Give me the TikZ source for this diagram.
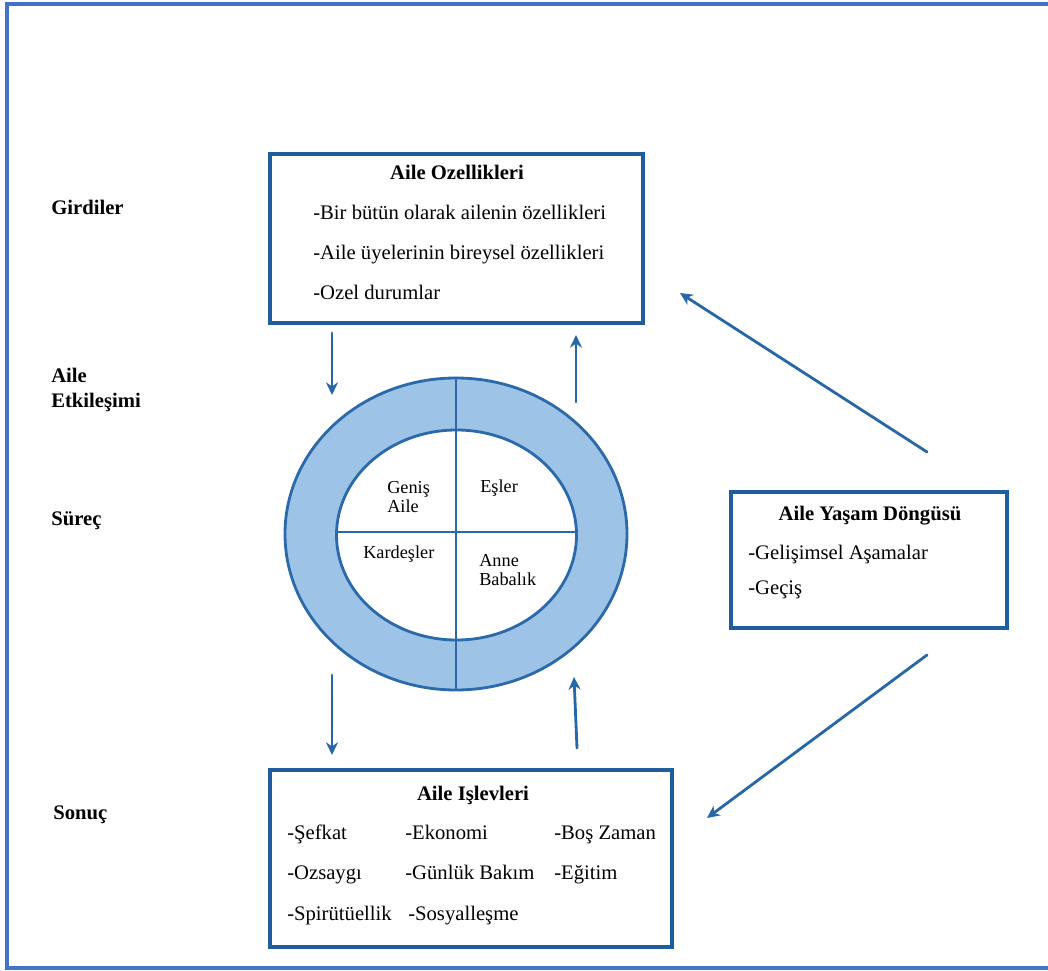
\documentclass[tikz,border=0pt]{standalone}
\usepackage{fontspec}
\setmainfont{Liberation Serif}
\usetikzlibrary{arrows.meta}
\definecolor{cerceve}{HTML}{4472C4}
\definecolor{kutumavi}{HTML}{1F5E9C}
\definecolor{oklar}{HTML}{2767A8}
\definecolor{halka}{HTML}{9DC3E6}
\definecolor{halkacizgi}{HTML}{2A69AA}
\begin{document}
\begin{tikzpicture}[x=0.025cm,y=-0.025cm,line
				join=round,line
				cap=round,font=\fontsize{14.7}{18}\selectfont,>={Stealth[length=9pt,width=8.5pt]}]
				\tikzset{kutu/.style={draw=kutumavi,line width=2.3pt,line join=miter},
					ok/.style={->,draw=oklar,fill=oklar,line width=2pt},
					baslik/.style={font=\fontsize{14.7}{18}\selectfont\bfseries,inner sep=0pt,text height=1.6ex,text depth=.4ex,yshift=-2.8pt},
					madde/.style={anchor=west,inner sep=0pt,text height=1.6ex,text depth=.4ex,yshift=-2.8pt},
					ici/.style={anchor=west,inner sep=0pt,align=left,font=\fontsize{13}{13.5}\selectfont}}
				\useasboundingbox (0,0) rectangle (1048,971);
				\draw[cerceve,line width=2.2pt,line join=miter] (7,4) rectangle (1070,968);
				% halka
				\path (456,534) coordinate (O)
				(456,378) coordinate (T)
				(456,690) coordinate (D)
				(337,532) coordinate (L)
				(576,532) coordinate (R);
				\draw[halkacizgi,fill=halka,line width=2pt] (O) ellipse (171 and 156);
				\draw[halkacizgi,fill=white,line width=2pt] (456.5,535) ellipse (120 and 105);
				\draw[halkacizgi,line width=2pt] (T)--(D);
				\draw[halkacizgi,line width=2pt] (L)--(R);
				\node[ici] (genis) at (387,497) {Geniş\\Aile};
				\node[ici] (esler) at (480,488) {Eşler};
				\node[ici] (kardes) at (363,554) {Kardeşler};
				\node[ici] (anne) at (479,570) {Anne\\Babalık};
				% kutular
				\draw[kutu] (270,154) rectangle (643,323);
				\node[baslik] (ozellik) at (457,172) {Aile Ozellikleri};
				\node[madde] (oz1) at (313,212) {-Bir bütün olarak ailenin özellikleri};
				\node[madde] (oz2) at (313,252) {-Aile üyelerinin bireysel özellikleri};
				\node[madde] (oz3) at (313,292) {-Ozel durumlar};
				\draw[kutu] (731,492) rectangle (1007,628);
				\node[baslik] (dongu) at (870,513) {Aile Yaşam Döngüsü};
				\node[madde] (do1) at (748,552) {-Gelişimsel Aşamalar};
				\node[madde] (do2) at (748,587) {-Geçiş};
				\draw[kutu] (270,770) rectangle (672,947);
				\node[baslik] (islev) at (473,793) {Aile Işlevleri};
				\node[madde] at (287,832) {-Şefkat};
				\node[madde] at (405,832) {-Ekonomi};
				\node[madde] at (554,832) {-Boş Zaman};
				\node[madde] at (287,872) {-Ozsaygı};
				\node[madde] at (405,872) {-Günlük Bakım};
				\node[madde] at (554,872) {-Eğitim};
				\node[madde] at (287,913) {-Spirütüellik};
				\node[madde] at (408,913) {-Sosyalleşme};
				% sol etiketler
				\node[baslik,anchor=west] (girdi) at (51,207) {Girdiler};
				\node[anchor=west,inner sep=0pt,align=left,font=\fontsize{14.7}{17.8}\selectfont\bfseries] (etki) at (51,390) {Aile\\Etkileşimi};
				\node[baslik,anchor=west] (surec) at (51,518) {Süreç};
				\node[baslik,anchor=west] (sonuc) at (53,812) {Sonuç};
				% oklar
				\path (332,333) coordinate (A1)
				(332,395) coordinate (B1)
				(576,402) coordinate (A2)
				(576,335) coordinate (B2)
				(332,675) coordinate (A3)
				(332,755) coordinate (B3)
				(577,748) coordinate (A4)
				(574,677) coordinate (B4)
				(927,452) coordinate (A5)
				(680,293) coordinate (B5)
				(927,655) coordinate (A6)
				(707,818) coordinate (B6);
				\draw[ok] (A1)--(B1);
				\draw[ok] (A2)--(B2);
				\draw[ok] (A3)--(B3);
				\draw[ok] (A4)--(B4);
				\draw[ok] (A5)--(B5);
				\draw[ok] (A6)--(B6);
\end{tikzpicture}
\end{document}
